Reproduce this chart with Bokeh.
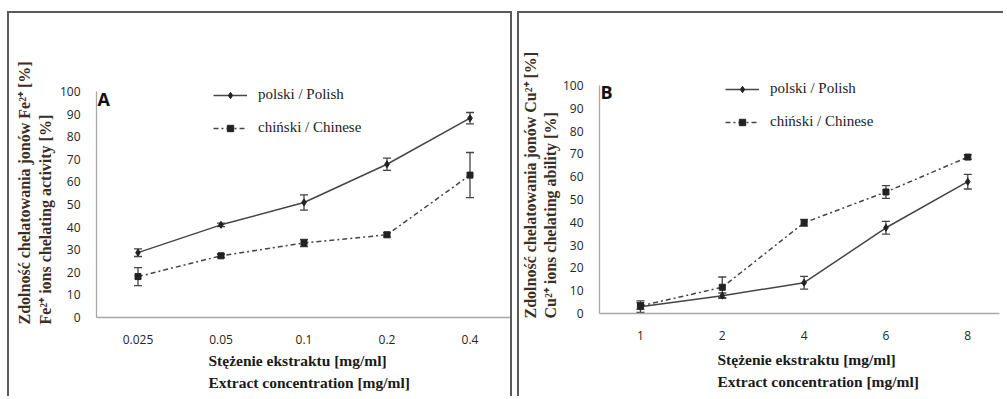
import math
from bokeh.plotting import figure
from bokeh.models import (Range1d, FixedTicker, ColumnDataSource, Whisker, TeeHead,
                          Legend, LegendItem, Label, Title)
from bokeh.layouts import row
from bokeh.embed import file_html
from bokeh.resources import INLINE

# ---------------- data ----------------
conc_A = ["0.025", "0.05", "0.1", "0.2", "0.4"]
polish_A = [28.7, 41.0, 50.9, 67.8, 88.2]
polish_A_err = [1.7, 0.8, 3.4, 2.7, 2.5]
chinese_A = [18.1, 27.3, 33.0, 36.6, 63.0]
chinese_A_err = [4.0, 0.8, 1.6, 1.0, 10.0]

conc_B = ["1", "2", "4", "6", "8"]
polish_B = [3.0, 7.8, 13.5, 37.6, 57.8]
polish_B_err = [2.5, 1.2, 2.8, 2.8, 3.2]
chinese_B = [3.3, 11.5, 39.8, 53.3, 68.6]
chinese_B_err = [1.5, 4.5, 1.5, 2.8, 1.0]

y_ticks = [0, 10, 20, 30, 40, 50, 60, 70, 80, 90, 100]

legend_polish = "polski / Polish"
legend_chinese = "chiński / Chinese"
x_title = "Stężenie ekstraktu [mg/ml]\nExtract concentration [mg/ml]"
y_title_A = "Zdolność chelatowania jonów Fe²⁺ [%]\nFe²⁺ ions chelating activity [%]"
y_title_B = "Zdolność chelatowania jonów Cu²⁺ [%]\nCu²⁺ ions chelating ability [%]"

LINE = "#454545"
AXIS = "#a8a8a8"
TICK = "#252525"
YTITLE = "#3b2e25"
SERIF = "Liberation Serif"
BORDER = "2px solid #5a5a5a"


def make_panel(cats, pol, pol_err, chi, chi_err, letter, ytitle,
               width, height, mb, x_end, y_end, geo):
    p = figure(width=width, height=height, output_backend="svg", toolbar_location=None,
               x_range=Range1d(0, x_end), y_range=Range1d(0, y_end),
               min_border_left=mb[0], min_border_right=mb[1],
               min_border_top=mb[2], min_border_bottom=mb[3])
    p.frame_align = False
    p.outline_line_color = None
    p.grid.visible = False
    p.background_fill_color = "white"
    p.border_fill_color = "white"

    xs = [i + 0.5 for i in range(len(cats))]
    for ax in (p.xaxis[0], p.yaxis[0]):
        ax.axis_line_color = AXIS
        ax.axis_line_width = 1.3
        ax.major_tick_line_color = None
        ax.minor_tick_line_color = None
        ax.major_label_text_font = "Open Sans"
        ax.major_label_text_font_size = "12px"
        ax.major_label_text_color = TICK
    p.xaxis.major_label_standoff = 11
    p.yaxis.major_label_standoff = 10
    p.xaxis.ticker = FixedTicker(ticks=xs)
    p.xaxis.major_label_overrides = {x: c for x, c in zip(xs, cats)}
    p.yaxis.ticker = FixedTicker(ticks=y_ticks)
    p.yaxis.bounds = (0, 100)

    src_p = ColumnDataSource(dict(x=xs, y=pol,
                                  lo=[a - b for a, b in zip(pol, pol_err)],
                                  hi=[a + b for a, b in zip(pol, pol_err)]))
    src_c = ColumnDataSource(dict(x=xs, y=chi,
                                  lo=[a - b for a, b in zip(chi, chi_err)],
                                  hi=[a + b for a, b in zip(chi, chi_err)]))

    lp = p.line("x", "y", source=src_p, line_color=LINE, line_width=1.5)
    sp = p.scatter("x", "y", source=src_p, marker="diamond", size=7,
                   fill_color="#222222", line_color="#222222")
    lc = p.line("x", "y", source=src_c, line_color=LINE, line_width=1.5,
                line_dash="5 3 2 3")
    sc = p.scatter("x", "y", source=src_c, marker="square", size=6,
                   fill_color="#222222", line_color="#222222")

    for src in (src_p, src_c):
        w = Whisker(source=src, base="x", upper="hi", lower="lo",
                    line_color="#444444", line_width=1.3,
                    upper_head=TeeHead(size=8, line_color="#444444", line_width=1.3),
                    lower_head=TeeHead(size=8, line_color="#444444", line_width=1.3))
        p.add_layout(w)

    legend = Legend(items=[LegendItem(label=legend_polish, renderers=[lp, sp]),
                           LegendItem(label=legend_chinese, renderers=[lc, sc])],
                    location=geo["legend"], glyph_width=34, glyph_height=16,
                    label_height=16, spacing=16, label_standoff=11, padding=0, margin=0,
                    border_line_alpha=0, background_fill_alpha=0,
                    label_text_font=SERIF, label_text_font_size="15px",
                    label_text_color="#222222")
    p.add_layout(legend)

    p.add_layout(Label(x=geo["letter"][0], y=geo["letter"][1], text=letter,
                       text_font="Open Sans", text_font_style="bold",
                       text_font_size="18px", text_color="#111111",
                       text_align="left", text_baseline="top"))

    # axis titles (two lines each, left aligned)
    p.add_layout(Title(text=ytitle, align="left", offset=geo["yoff"], standoff=geo["ystand"],
                       text_font=SERIF, text_font_style="bold", text_font_size="16px",
                       text_line_height=geo["ylh"], text_color=YTITLE), "left")
    p.add_layout(Title(text=x_title, align="left", offset=geo["xoff"], standoff=geo["xstand"],
                       text_font=SERIF, text_font_style="bold", text_font_size="15.5px",
                       text_line_height=1.25, text_color="#1a1a1a"), "below")
    return p


geoA = dict(legend=(117, 181), letter=(0.012, 101.8), yoff=-7, ystand=5, ylh=1.25,
            xoff=112, xstand=8)
pA = make_panel(conc_A, polish_A, polish_A_err, chinese_A, chinese_A_err, "A", y_title_A,
                505, 385, (87, 4, 61, 81), 414 / 83, 243 / 2.26, geoA)
pA.margin = (11, 0, 0, 7)
pA.styles = {"border-top": BORDER, "border-left": BORDER, "border-right": BORDER}

geoB = dict(legend=(126, 183), letter=(0.012, 102.2), yoff=-5, ystand=1, ylh=1.19,
            xoff=118, xstand=14)
pB = make_panel(conc_B, polish_B, polish_B_err, chinese_B, chinese_B_err, "B", y_title_B,
                486, 385, (78, 6, 55, 85), 402 / 82.25, 245 / 2.28, geoB)
pB.margin = (11, 0, 0, 5)
pB.styles = {"border-top": BORDER, "border-left": BORDER}

layout = row(pA, pB, spacing=0)
open("out.html", "w").write(file_html(layout, INLINE))
